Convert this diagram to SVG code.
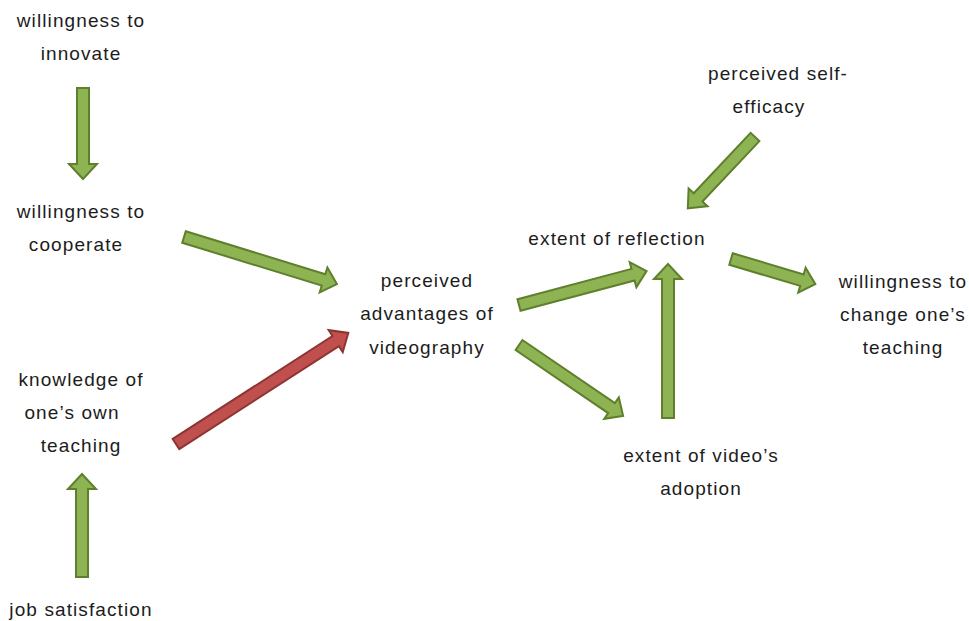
<svg xmlns="http://www.w3.org/2000/svg" width="969" height="621" viewBox="0 0 969 621">
  <style>
    .lbl { font-family: "Liberation Sans", Arial, sans-serif; font-size: 19px; fill: #1c1c1c; text-anchor: middle; letter-spacing: 1.1px; }
    .pos { fill: #8eb353; stroke: #5e7f2c; stroke-width: 2; stroke-linejoin: miter; }
    .neg { fill: #c0504d; stroke: #8c3532; stroke-width: 2; stroke-linejoin: miter; }
  </style>
  <rect width="969" height="621" fill="#ffffff"/>

  <!-- block arrows: drawn along +x from 0 to length, then placed by transform -->
  <g id="connectors">
    <path class="pos" transform="translate(83,88) rotate(90)" d="M0,-6 H76 V-14 L91,0 L76,14 V6 H0 Z"/>
    <path class="pos" transform="translate(184,237) rotate(17.1)" d="M0,-6 H146 V-13 L160,0 L146,13 V6 H0 Z"/>
    <path class="neg" transform="translate(176,444) rotate(-32.8)" d="M0,-6 H190 V-13 L205,0 L190,13 V6 H0 Z"/>
    <path class="pos" transform="translate(82,577) rotate(-90)" d="M0,-6 H88 V-14 L103,0 L88,14 V6 H0 Z"/>
    <path class="pos" transform="translate(519,305) rotate(-14.9)" d="M0,-6 H118 V-13 L132,0 L118,13 V6 H0 Z"/>
    <path class="pos" transform="translate(519,345) rotate(34.3)" d="M0,-6 H112 V-13 L126,0 L112,13 V6 H0 Z"/>
    <path class="pos" transform="translate(755,137) rotate(133.3)" d="M0,-6 H83 V-13 L98,0 L83,13 V6 H0 Z"/>
    <path class="pos" transform="translate(668,418) rotate(-90)" d="M0,-6 H139 V-14 L154,0 L139,14 V6 H0 Z"/>
    <path class="pos" transform="translate(731,259) rotate(16.6)" d="M0,-6 H74 V-13 L88,0 L74,13 V6 H0 Z"/>
  </g>

  <g id="willingness-innovate">
    <text class="lbl" x="81" y="27">willingness to</text>
    <text class="lbl" x="81" y="60">innovate</text>
  </g>
  <g id="willingness-cooperate">
    <text class="lbl" x="81" y="218">willingness to</text>
    <text class="lbl" x="76" y="251">cooperate</text>
  </g>
  <g id="knowledge-teaching">
    <text class="lbl" x="81" y="386">knowledge of</text>
    <text class="lbl" x="72" y="419">one’s own</text>
    <text class="lbl" x="81" y="452">teaching</text>
  </g>
  <g id="job-satisfaction">
    <text class="lbl" x="81" y="616">job satisfaction</text>
  </g>
  <g id="perceived-advantages">
    <text class="lbl" x="427" y="287">perceived</text>
    <text class="lbl" x="427" y="320">advantages of</text>
    <text class="lbl" x="427" y="354">videography</text>
  </g>
  <g id="extent-reflection">
    <text class="lbl" x="617" y="245">extent of reflection</text>
  </g>
  <g id="self-efficacy">
    <text class="lbl" x="778" y="80">perceived self-</text>
    <text class="lbl" x="769" y="113">efficacy</text>
  </g>
  <g id="willingness-change">
    <text class="lbl" x="903" y="288">willingness to</text>
    <text class="lbl" x="903" y="321">change one’s</text>
    <text class="lbl" x="903" y="354">teaching</text>
  </g>
  <g id="video-adoption">
    <text class="lbl" x="701" y="462">extent of video’s</text>
    <text class="lbl" x="701" y="495">adoption</text>
  </g>
</svg>
